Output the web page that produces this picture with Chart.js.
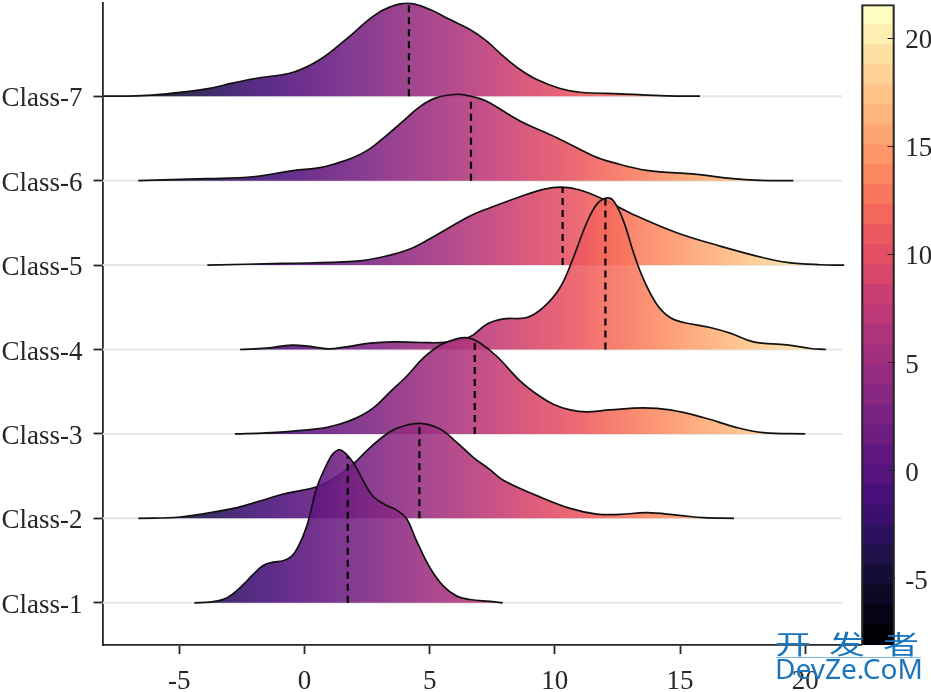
<!DOCTYPE html>
<html>
<head>
<meta charset="utf-8">
<title>Ridgeline</title>
<script src="https://cdn.jsdelivr.net/npm/chart.js@4"></script>
<style>
    body { margin: 0; background: #fff; }
    #wrap { position: relative; width: 931px; height: 692px; overflow: hidden; }
    canvas { position: absolute; top: 0; }
    #mark1 { position: absolute; left: 775px; top: 622px; font: 36px "Noto Sans CJK SC"; color: #1a75bc; letter-spacing: 18px; white-space: nowrap; line-height: 40px; transform: scaleY(0.72); }
    #markLine { position: absolute; left: 776px; top: 657px; width: 145px; height: 1px; background: #7db7e2; }
    #mark2 { position: absolute; left: 775px; top: 648px; font: 28px "Noto Sans"; color: #1a75bc; white-space: nowrap; line-height: 40px; }
</style>
</head>
<body>
<div id="wrap">
    <canvas id="ridgeChart" width="931" height="692" style="left:0"></canvas>
    <canvas id="barChart" width="72" height="692" style="left:859px"></canvas>
    <div id="mark1">开发者</div>
    <div id="markLine"></div>
    <div id="mark2">DevZe.CoM</div>
</div>
<script>
// class names, bottom to top
const classNames = ["Class-1", "Class-2", "Class-3", "Class-4", "Class-5", "Class-6", "Class-7"];
const classLevels = [1, 2, 3, 4, 5, 6, 7];
const xTicks = [-5, 0, 5, 10, 15, 20];
const barTicks = [-5, 0, 5, 10, 15, 20];

// ridge outlines: x position and height above the class baseline
const class1X = [-4.4, -3.78, -3.24, -2.84, -2.44, -2.05, -1.65, -1.25, -0.85, -0.51, -0.25, 0.09, 0.49, 0.89, 1.15, 1.45, 1.95, 2.35, 2.75, 3.28, 3.68, 4.08, 4.48, 5.01, 5.55, 6.08, 6.61, 7.41, 7.92];
const class1H = [0, 0.008, 0.04, 0.11, 0.217, 0.336, 0.442, 0.482, 0.498, 0.553, 0.664, 0.908, 1.363, 1.64, 1.77, 1.809, 1.659, 1.442, 1.256, 1.153, 1.098, 0.995, 0.731, 0.415, 0.197, 0.079, 0.039, 0.016, 0];

const class2X = [-6.64, -4.97, -2.84, -1.78, -0.85, 0.49, 1.28, 2.02, 2.35, 3.02, 3.68, 4.61, 5.41, 6.08, 6.74, 7.41, 7.94, 9.28, 10.61, 11.67, 12.61, 13.67, 14.87, 15.93, 17.16];
const class2H = [0, 0.016, 0.118, 0.205, 0.288, 0.375, 0.494, 0.664, 0.762, 0.94, 1.066, 1.126, 1.058, 0.9, 0.723, 0.577, 0.45, 0.269, 0.118, 0.051, 0.047, 0.067, 0.039, 0.008, 0];

const class3X = [-2.78, -1.51, 0.49, 1.42, 2.08, 2.75, 3.42, 4.08, 4.75, 5.41, 6.08, 6.54, 7.01, 7.68, 8.61, 9.28, 9.94, 10.61, 11.27, 12.2, 13.54, 14.6, 15.93, 17.27, 18.33, 20.0];
const class3H = [0, 0.012, 0.059, 0.118, 0.19, 0.308, 0.498, 0.683, 0.9, 1.05, 1.126, 1.137, 1.078, 0.92, 0.628, 0.47, 0.352, 0.284, 0.261, 0.284, 0.308, 0.284, 0.194, 0.075, 0.016, 0];

const class4X = [-2.58, -1.51, -0.51, 0.22, 0.95, 1.68, 2.62, 3.55, 4.61, 5.68, 6.61, 7.28, 7.94, 8.88, 9.54, 10.21, 10.74, 11.28, 11.68, 12.05, 12.34, 12.74, 13.14, 13.54, 14.07, 14.6, 15.14, 16.2, 17.0, 17.93, 19.27, 20.2, 20.83];
const class4H = [0, 0.016, 0.051, 0.036, 0.008, 0.032, 0.075, 0.091, 0.083, 0.087, 0.15, 0.3, 0.363, 0.379, 0.498, 0.735, 1.09, 1.505, 1.722, 1.793, 1.761, 1.524, 1.149, 0.833, 0.537, 0.379, 0.32, 0.261, 0.194, 0.091, 0.055, 0.012, 0];

const class5X = [-3.88, -0.85, 1.95, 3.15, 4.21, 5.15, 6.61, 7.41, 8.61, 9.54, 10.27, 11.0, 11.94, 13.27, 14.87, 16.6, 18.33, 19.27, 20.6, 21.56];
const class5H = [0, 0.02, 0.043, 0.099, 0.19, 0.336, 0.581, 0.679, 0.81, 0.897, 0.924, 0.889, 0.778, 0.581, 0.383, 0.225, 0.087, 0.032, 0.004, 0];

const class6X = [-6.64, -3.91, -2.18, -0.45, 0.62, 1.28, 1.95, 2.62, 3.28, 3.95, 4.61, 5.28, 6.08, 6.61, 7.01, 7.41, 8.61, 10.08, 11.54, 12.34, 13.67, 15.67, 17.0, 18.2, 19.53];
const class6H = [0, 0.024, 0.043, 0.118, 0.154, 0.205, 0.273, 0.379, 0.537, 0.707, 0.877, 0.983, 1.023, 1.003, 0.972, 0.92, 0.707, 0.509, 0.292, 0.213, 0.122, 0.075, 0.028, 0.004, 0];

const class7X = [-8.07, -6.71, -5.51, -3.91, -2.84, -1.91, -0.45, 0.62, 1.68, 2.75, 3.42, 4.15, 5.01, 5.81, 6.61, 7.28, 7.94, 8.61, 9.28, 10.21, 11.01, 12.61, 14.47, 15.8];
const class7H = [0, 0.004, 0.028, 0.087, 0.158, 0.213, 0.284, 0.434, 0.679, 0.948, 1.058, 1.102, 1.027, 0.908, 0.79, 0.652, 0.474, 0.316, 0.197, 0.091, 0.047, 0.028, 0.004, 0];

// dashed median markers
const medianX = [1.725, 4.59, 6.8, 12.02, 10.31, 6.65, 4.17];
const medianH = [1.74, 1.12, 1.1, 1.79, 0.92, 1.0, 1.1];

const ridgeX = [class1X, class2X, class3X, class4X, class5X, class6X, class7X];
const ridgeH = [class1H, class2H, class3H, class4H, class5H, class6H, class7H];

// colour scale
const barEdges = [-8.07, -7.14, -6.22, -5.29, -4.37, -3.44, -2.51, -1.59, -0.66, 0.26, 1.19, 2.12, 3.04, 3.97, 4.89, 5.82, 6.75, 7.67, 8.6, 9.52, 10.45, 11.38, 12.3, 13.23, 14.15, 15.08, 16.01, 16.93, 17.86, 18.78, 19.71, 20.64, 21.56];
const barColors = ["#000004", "#040414", "#0b0924", "#140e36", "#1f114a", "#2c115f", "#3a0f6f", "#47107a", "#55137d", "#611780", "#6e1e81", "#7a2382", "#872781", "#952c80", "#a2307f", "#af357b", "#bd3978", "#ca3e72", "#d84769", "#e34e65", "#ec5860", "#f4675c", "#f8765c", "#fb8761", "#fd9668", "#fea671", "#feb57c", "#fec488", "#fed295", "#fde1a3", "#fdefb1", "#fcfdbf"];

const inkColor = "#262626";
const fontFamily = '"Liberation Serif", serif';

function ridgeFill(context) {
    const chart = context.chart;
    const xScale = chart.scales.x;
    const x0 = xScale.getPixelForValue(barEdges[0]);
    const x1 = xScale.getPixelForValue(barEdges[barEdges.length - 1]);
    // scales have no size yet on the first pass
    if (!Number.isFinite(x0) || !Number.isFinite(x1)) return barColors[12];
    const gradient = chart.ctx.createLinearGradient(x0, 0, x1, 0);
    barColors.forEach((color, i) => {
        gradient.addColorStop(i / (barColors.length - 1), color + "e0");
    });
    return gradient;
}

// datasets earlier in the list are painted on top
const datasets = [];
classLevels.forEach((level, i) => {
    datasets.push({
        data: [{ x: medianX[i], y: level }, { x: medianX[i], y: level + medianH[i] }],
        borderColor: "#000",
        borderWidth: 2.2,
        borderDash: [7, 5],
        pointRadius: 0,
        fill: false
    });
    datasets.push({
        data: ridgeX[i].map((x, k) => ({ x: x, y: level + ridgeH[i][k] })),
        borderColor: "#111",
        borderWidth: 1.7,
        backgroundColor: ridgeFill,
        tension: 0.4,
        pointRadius: 0,
        fill: { value: level }
    });
});
classLevels.forEach((level) => {
    datasets.push({
        data: [{ x: -8.07, y: level }, { x: 21.47, y: level }],
        borderColor: "#e6e6e6",
        borderWidth: 2,
        pointRadius: 0,
        fill: false
    });
});

// tick labels must not shrink the plot area
function clearScalePadding(scale) {
    scale.paddingTop = 0;
    scale.paddingBottom = 0;
    scale.paddingLeft = 0;
    scale.paddingRight = 0;
}

const ridgeChart = new Chart(document.getElementById("ridgeChart"), {
    type: "line",
    data: { datasets: datasets },
    options: {
        responsive: false,
        animation: false,
        devicePixelRatio: 1,
        layout: { padding: { top: 2.5, right: 70, left: 0, bottom: 0 } },
        plugins: { legend: { display: false }, tooltip: { enabled: false } },
        scales: {
            x: {
                type: "linear",
                min: -8.07,
                max: 22.23,
                afterBuildTicks: (scale) => { scale.ticks = xTicks.map((v) => ({ value: v })); },
                afterFit: (scale) => { scale.height = 47; clearScalePadding(scale); },
                ticks: {
                    color: inkColor,
                    padding: 12,
                    maxRotation: 0,
                    autoSkip: false,
                    font: { family: fontFamily, size: 27 },
                    callback: (value) => String(value)
                },
                grid: { drawOnChartArea: false, tickLength: 9, tickColor: inkColor, tickWidth: 1.8 },
                border: { color: inkColor, width: 1.8 }
            },
            y: {
                type: "linear",
                min: 0.5,
                max: 8.11,
                afterBuildTicks: (scale) => { scale.ticks = classLevels.map((v) => ({ value: v })); },
                afterFit: (scale) => { scale.width = 102.5; clearScalePadding(scale); },
                ticks: {
                    color: inkColor,
                    padding: 11,
                    labelOffset: 3,
                    autoSkip: false,
                    font: { family: fontFamily, size: 27 },
                    callback: (value) => classNames[value - 1]
                },
                grid: { drawOnChartArea: false, tickLength: 9, tickColor: inkColor, tickWidth: 1.8 },
                border: { color: inkColor, width: 1.8 }
            }
        }
    }
});

// colour bar: one floating bar per level, plus an empty frame on top
const barDatasets = barColors.map((color, i) => ({
    data: [[barEdges[i], barEdges[i + 1]]],
    backgroundColor: color,
    borderWidth: 0,
    grouped: false,
    barPercentage: 1,
    categoryPercentage: 1
}));
barDatasets.unshift({
    data: [[barEdges[0], barEdges[barEdges.length - 1]]],
    backgroundColor: "transparent",
    borderColor: inkColor,
    borderWidth: 1.5,
    grouped: false,
    barPercentage: 1,
    categoryPercentage: 1,
    clip: false
});

const barChart = new Chart(document.getElementById("barChart"), {
    type: "bar",
    data: { labels: ["scale"], datasets: barDatasets },
    options: {
        responsive: false,
        animation: false,
        devicePixelRatio: 1,
        layout: { padding: { top: 4.5, left: 2.5, right: 0, bottom: 47 } },
        plugins: { legend: { display: false }, tooltip: { enabled: false } },
        scales: {
            x: { display: false },
            y: {
                position: "right",
                min: barEdges[0],
                max: barEdges[barEdges.length - 1],
                afterBuildTicks: (scale) => { scale.ticks = barTicks.map((v) => ({ value: v })); },
                afterFit: (scale) => { scale.width = 36.5; clearScalePadding(scale); },
                ticks: {
                    color: inkColor,
                    padding: 17.7,
                    labelOffset: 3,
                    autoSkip: false,
                    font: { family: fontFamily, size: 27 },
                    callback: (value) => String(value)
                },
                grid: { z: 1, drawOnChartArea: false, tickLength: -7, tickColor: inkColor, tickWidth: 1 },
                border: { display: false }
            }
        }
    }
});
</script>
</body>
</html>
